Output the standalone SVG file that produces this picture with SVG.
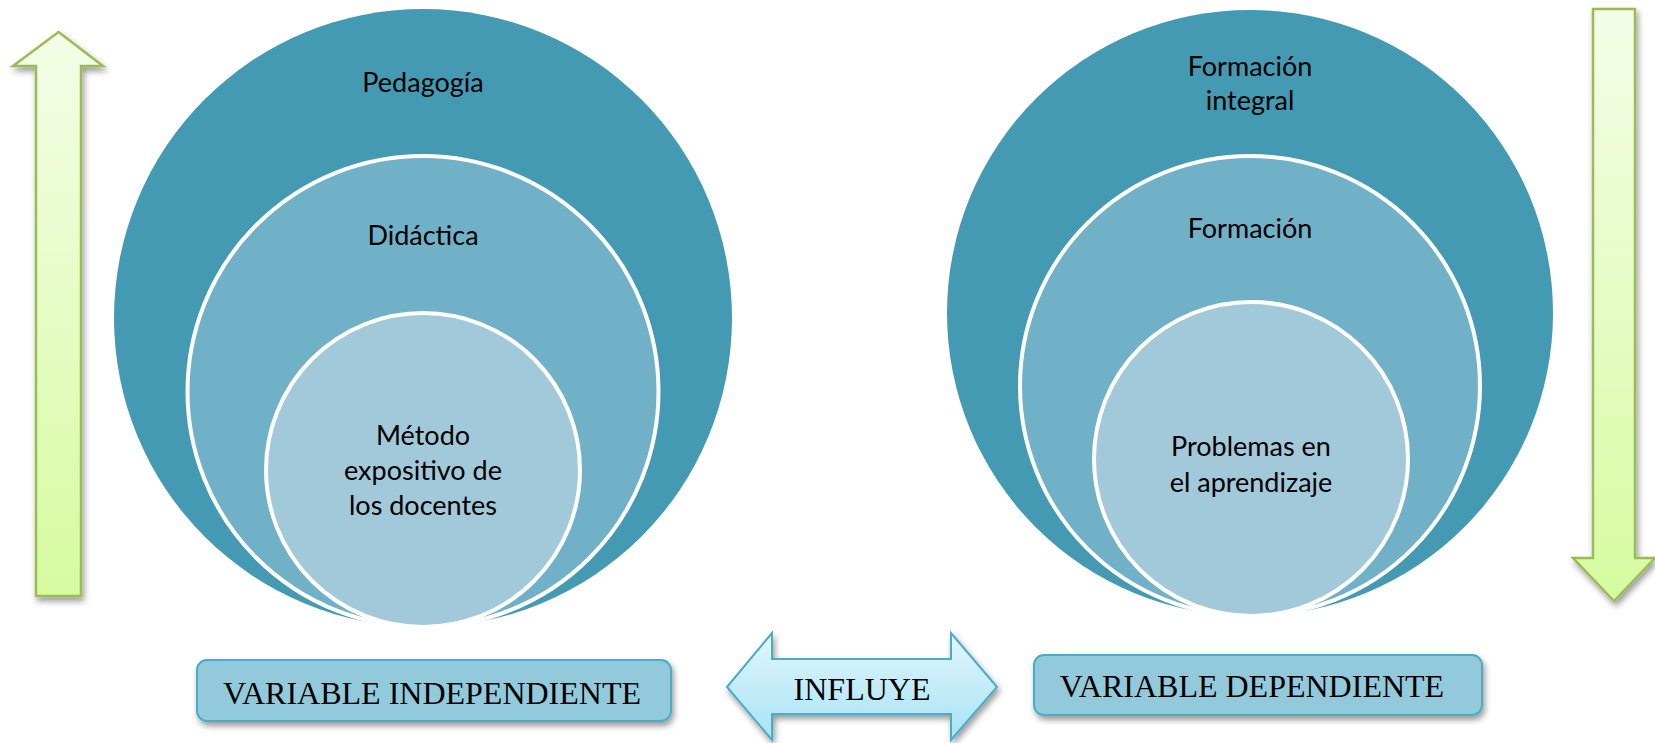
<svg xmlns="http://www.w3.org/2000/svg" width="1655" height="743" viewBox="0 0 1655 743">
<defs>
<style>
.c1{fill:#439AB2}
.c2{fill:#71B1C8;stroke:#FFFFFF;stroke-width:4}
.c3{fill:#A2C9DA;stroke:#FFFFFF;stroke-width:4}
.lbl{font-family:Lato,"Noto Sans",sans-serif;font-size:27px;fill:#000;text-anchor:middle}
.box{fill:#92CADC;stroke:#4BACC6;stroke-width:2}
.btxt{font-family:"Liberation Serif","Times New Roman",serif;font-size:32px;fill:#000;text-anchor:middle}
.garrow{stroke:#9BBB59;stroke-width:2.5;stroke-linejoin:miter}
</style>
<linearGradient id="gUp" x1="0" y1="0" x2="0" y2="1">
<stop offset="0" stop-color="#F4FDE8"/>
<stop offset="1" stop-color="#D6FBA0"/>
</linearGradient>
<linearGradient id="gCyan" x1="0" y1="0" x2="0" y2="1">
<stop offset="0" stop-color="#E2F6FC"/>
<stop offset="1" stop-color="#A6E3F5"/>
</linearGradient>
<filter id="sh" x="-30%" y="-30%" width="160%" height="160%">
<feDropShadow dx="2" dy="4" stdDeviation="3" flood-color="#000" flood-opacity="0.4"/>
</filter>
</defs>

<g id="left-circles">
<g id="pedagogia">
<circle class="c1" cx="423" cy="318" r="309"/>
<text class="lbl" x="423" y="92">Pedagogía</text>
</g>
<g id="didactica">
<circle class="c2" cx="423" cy="391.5" r="235.5"/>
<text class="lbl" x="423" y="245">Didáctica</text>
</g>
<g id="metodo">
<circle class="c3" cx="423" cy="470" r="157"/>
<text class="lbl" x="423" y="445">Método</text>
<text class="lbl" x="423" y="480">expositivo de</text>
<text class="lbl" x="423" y="515">los docentes</text>
</g>
</g>

<g id="right-circles">
<g id="formacion-integral">
<circle class="c1" cx="1250" cy="313" r="303"/>
<text class="lbl" x="1250" y="76">Formación</text>
<text class="lbl" x="1250" y="110">integral</text>
</g>
<g id="formacion">
<circle class="c2" cx="1250" cy="386" r="230"/>
<text class="lbl" x="1250" y="238">Formación</text>
</g>
<g id="problemas">
<circle class="c3" cx="1251" cy="459" r="157"/>
<text class="lbl" x="1251" y="456">Problemas en</text>
<text class="lbl" x="1251" y="492">el aprendizaje</text>
</g>
</g>

<g id="connectors">
<g id="arrow-up">
<polygon class="garrow" fill="url(#gUp)" filter="url(#sh)" points="58.5,32 103,66 81,66 81,596 36,596 36,66 13,66"/>
</g>
<g id="arrow-down">
<polygon class="garrow" fill="url(#gUp)" filter="url(#sh)" points="1593,9 1635,9 1635,558 1655,558 1614,601 1573,558 1593,558"/>
</g>
<g id="influye">
<polygon fill="url(#gCyan)" stroke="#4BACC6" stroke-width="2" filter="url(#sh)" points="727,687 772,633 772,659 951,659 951,633 997,687 951,740 951,714 772,714 772,740"/>
<text class="btxt" x="862" y="700">INFLUYE</text>
</g>
</g>

<g id="var-independiente">
<rect class="box" filter="url(#sh)" x="197" y="660" width="474" height="61" rx="10"/>
<text class="btxt" x="432" y="704">VARIABLE INDEPENDIENTE</text>
</g>
<g id="var-dependiente">
<rect class="box" filter="url(#sh)" x="1034" y="655" width="448" height="60" rx="10"/>
<text class="btxt" x="1252" y="697">VARIABLE DEPENDIENTE</text>
</g>
</svg>
